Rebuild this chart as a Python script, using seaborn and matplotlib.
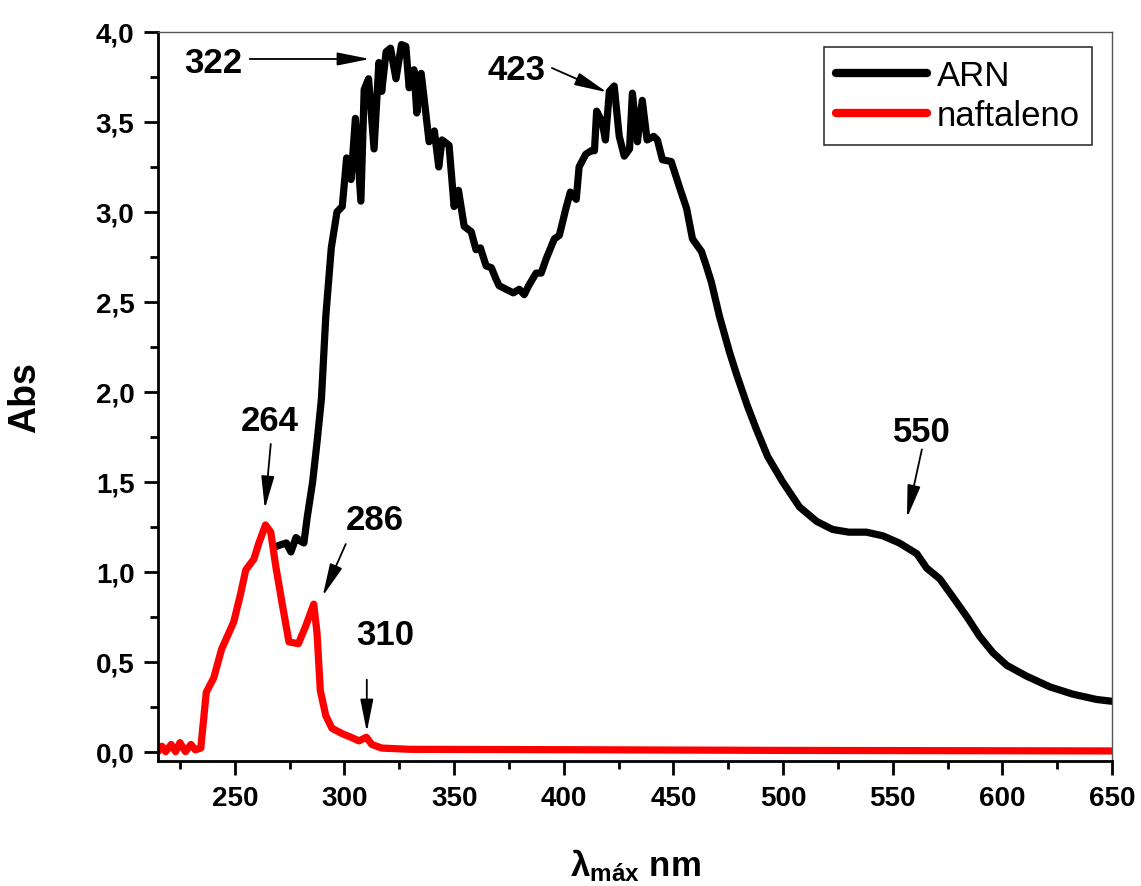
import matplotlib
matplotlib.use("Agg")
import matplotlib.pyplot as plt
import matplotlib.ticker as mticker
import numpy as np
import pandas as pd
import seaborn as sns

# ---- spectra (wavelength in nm, absorbance) ----
arn_nm = [268.7, 271, 273.5, 275.6, 277.9, 280, 281.5, 283, 285.5, 287.5, 289.5,
          291.5, 294, 296.6, 299, 301, 303, 305, 307.5, 309, 311, 313.5, 315.7,
          317, 319, 321, 323.5, 326, 328, 329.5, 331.7, 333, 335, 338.6, 341,
          343, 344.5, 347.7, 350, 352, 354.6, 357.8, 360, 362, 364.6, 367, 369,
          370.5, 373.7, 377, 379.7, 382, 384, 387.4, 389.7, 392, 395.7, 398,
          401, 403, 405.7, 407, 410, 412.5, 414, 415, 417.5, 419, 420.8, 423,
          425.3, 427.6, 430, 431.3, 433.6, 435.8, 438, 441, 442.7, 445, 449,
          452.7, 456, 458.7, 462.8, 465, 467.3, 471, 475.6, 479, 483.8, 487.9,
          493, 499.8, 507.5, 515.3, 522.6, 530, 538, 545.4, 553, 561, 565.5,
          571.5, 577.4, 583.8, 589.7, 595.7, 602, 611, 621.7, 632, 643, 650]
arn_abs = [1.14, 1.15, 1.16, 1.11, 1.19, 1.17, 1.16, 1.30, 1.50, 1.72, 1.96,
           2.42, 2.80, 3.00, 3.03, 3.30, 3.18, 3.52, 3.06, 3.68, 3.74, 3.35, 3.83,
           3.67, 3.89, 3.91, 3.74, 3.93, 3.92, 3.69, 3.79, 3.55, 3.77, 3.39, 3.45,
           3.25, 3.40, 3.37, 3.03, 3.12, 2.92, 2.89, 2.79, 2.80, 2.70, 2.69, 2.63,
           2.59, 2.57, 2.55, 2.57, 2.54, 2.59, 2.66, 2.66, 2.74, 2.85, 2.87,
           3.02, 3.11, 3.07, 3.25, 3.32, 3.34, 3.34, 3.56, 3.50, 3.40, 3.67, 3.70,
           3.42, 3.31, 3.35, 3.66, 3.39, 3.62, 3.40, 3.42, 3.40, 3.29, 3.28,
           3.14, 3.02, 2.85, 2.78, 2.70, 2.61, 2.42, 2.22, 2.09, 1.92, 1.79,
           1.64, 1.50, 1.36, 1.28, 1.235, 1.22, 1.22, 1.20, 1.16, 1.10, 1.02,
           0.96, 0.86, 0.75, 0.64, 0.55, 0.48, 0.42, 0.36, 0.32, 0.29, 0.28]

naf_nm = [215, 216.7, 218.5, 221, 223, 225, 227.5, 230, 232, 234.5, 237, 240.4,
          244, 249.5, 252.7, 255, 258.7, 261, 264, 266.4, 268.7, 271.5, 274.7,
          279, 282.4, 286, 287.5, 289, 291.5, 294.3, 299, 303, 306.6, 310,
          312.5, 317, 330, 400, 500, 600, 650]
naf_abs = [0.0, 0.03, 0.0, 0.04, 0.0, 0.05, 0.0, 0.04, 0.01, 0.02, 0.33, 0.41,
           0.57, 0.72, 0.88, 1.01, 1.07, 1.16, 1.26, 1.22, 1.03, 0.83, 0.61,
           0.60, 0.70, 0.82, 0.66, 0.34, 0.20, 0.13, 0.10, 0.08, 0.06, 0.08,
           0.04, 0.02, 0.013, 0.011, 0.007, 0.005, 0.004]

series_names = ["ARN", "naftaleno"]
series_colors = ["#000000", "#ff0000"]

# peak labels: text, text centre, arrow tail, arrow tip
peak_text = ["322", "423", "264", "286", "310", "550"]
peak_text_pos = [(240.0, 3.83), (378.6, 3.79), (266.0, 1.84),
                 (313.9, 1.29), (318.4, 0.65), (563.3, 1.78)]
peak_arrow_tail = [(256.8, 3.85), (394.6, 3.80), (266.4, 1.71),
                   (300.6, 1.154), (310.2, 0.40), (563.3, 1.68)]
peak_arrow_tip = [(311.6, 3.85), (419.7, 3.665), (263.7, 1.35),
                  (290.1, 0.865), (310.2, 0.11), (556.5, 1.30)]

df = pd.concat([
    pd.DataFrame({"nm": arn_nm, "Abs": arn_abs, "serie": series_names[0]}),
    pd.DataFrame({"nm": naf_nm, "Abs": naf_abs, "serie": series_names[1]}),
])

sns.set_style("ticks")
plt.rcParams["font.family"] = ["Liberation Sans", "DejaVu Sans"]
plt.rcParams["mathtext.fontset"] = "custom"
plt.rcParams["mathtext.rm"] = "Liberation Sans"
plt.rcParams["mathtext.bf"] = "Liberation Sans:bold"
plt.rcParams["mathtext.it"] = "Liberation Sans:bold"
for key in ("text.color", "axes.labelcolor", "xtick.color", "ytick.color"):
    plt.rcParams[key] = "black"

fig = plt.figure(figsize=(11.41, 8.87), dpi=100)
ax = fig.add_axes([0.1385, 0.1409, 0.9746 - 0.1385, 0.9628 - 0.1409])

sns.lineplot(data=df, x="nm", y="Abs", hue="serie", palette=series_colors,
             hue_order=series_names, estimator=None, sort=False,
             linewidth=5.2, ax=ax, legend=True)

ax.set_xlim(215, 650)
ax.set_ylim(-0.052, 4.0)
ax.xaxis.set_major_locator(mticker.MultipleLocator(50))
ax.xaxis.set_minor_locator(mticker.MultipleLocator(25))
ax.yaxis.set_major_locator(mticker.MultipleLocator(0.5))
ax.yaxis.set_minor_locator(mticker.MultipleLocator(0.25))
ax.yaxis.set_major_formatter(mticker.FuncFormatter(lambda v, p: f"{v:.1f}".replace(".", ",")))

ax.tick_params(axis="both", which="major", direction="out", length=10, width=2,
               pad=7, color="black", labelcolor="black")
ax.tick_params(axis="both", which="minor", direction="out", length=5.5, width=2,
               color="black")
ax.tick_params(axis="x", labelsize=20)
ax.tick_params(axis="y", labelsize=20)
ax.tick_params(top=False, right=False, which="both")
for lab in ax.get_xticklabels() + ax.get_yticklabels():
    lab.set_fontweight("bold")

for side in ("left", "bottom"):
    ax.spines[side].set_linewidth(2)
    ax.spines[side].set_color("black")
for side in ("top", "right"):
    ax.spines[side].set_linewidth(1)
    ax.spines[side].set_color("#555555")

ax.set_ylabel("Abs", fontsize=27, fontweight="bold", labelpad=38, color="black")
ax.set_xlabel(r"$\mathbf{\lambda_{máx}}$ nm", fontsize=25, fontweight="bold",
              labelpad=26, color="black")

for txt, tpos, tail, tip in zip(peak_text, peak_text_pos, peak_arrow_tail, peak_arrow_tip):
    ax.text(tpos[0], tpos[1], txt, ha="center", va="center", fontsize=25,
            fontweight="bold", color="black")
    ax.annotate("", xy=tip, xytext=tail,
                arrowprops=dict(arrowstyle="-|>,head_length=1.0,head_width=0.2",
                                color="black", lw=1.3, shrinkA=0, shrinkB=0,
                                mutation_scale=20))

leg = ax.legend(title=None, loc="upper right", bbox_to_anchor=(0.9795, 0.979),
                fontsize=25, frameon=True, fancybox=False, handlelength=2.6,
                handletextpad=0.3, borderpad=0.35, labelspacing=0.2,
                borderaxespad=0)
leg.get_frame().set_edgecolor("black")
leg.get_frame().set_linewidth(1.2)
for t in leg.get_texts():
    t.set_color("black")
for line in leg.get_lines():
    line.set_linewidth(6)
    line.set_solid_capstyle("round")

fig.savefig("out.png", dpi=100)
